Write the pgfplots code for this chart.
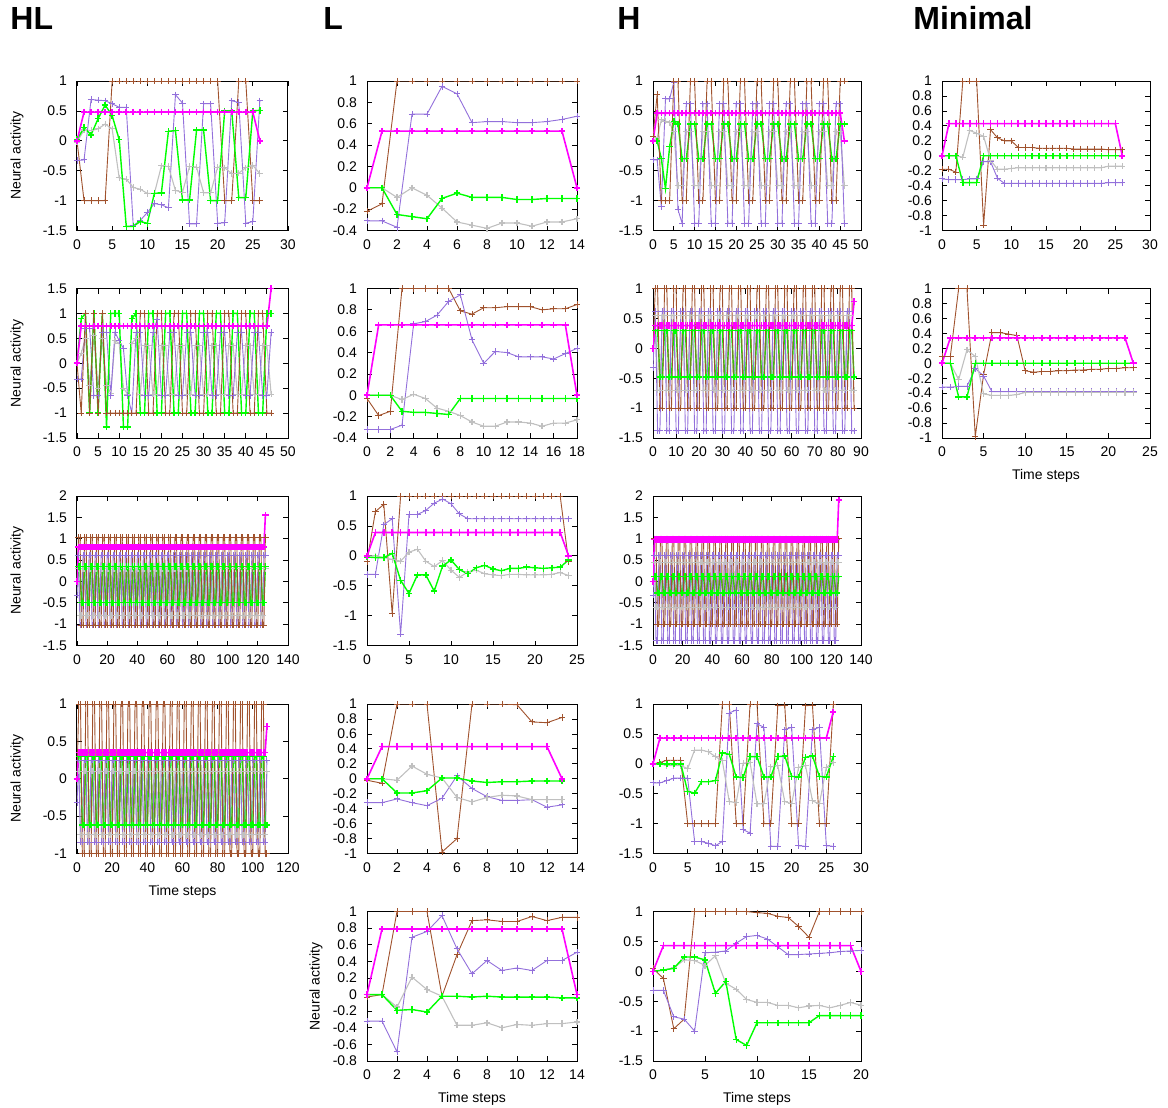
\documentclass[border=0pt]{standalone}
\usepackage{fontspec}
\setmainfont{Liberation Sans}
\usepackage{pgfplots}
\usepackage{pgfplotstable}
\pgfplotsset{compat=1.18}
\definecolor{cbr}{RGB}{160,82,45}
\definecolor{cpu}{RGB}{147,112,219}
\definecolor{cgr}{RGB}{0,255,0}
\definecolor{cgy}{RGB}{192,192,192}
\definecolor{cmg}{RGB}{255,0,255}
\pgfplotsset{
  panel/.style={scale only axis, height=74.75pt, anchor=north west,
    tick align=inside, major tick length=2.5pt,
    every tick/.style={black, line width=0.4pt},
    axis line style={black, line width=0.5pt},
    tick label style={font=\fontsize{7}{8}\selectfont},
    /pgf/number format/assume math mode=true,
    xticklabel style={yshift=-1pt},
    yticklabel style={xshift=-1.5pt},
    xlabel style={font=\fontsize{7}{8}\selectfont, at={(axis description cs:0.5,0)}, anchor=center, yshift=-19pt},
    ylabel style={font=\fontsize{7}{8}\selectfont, at={(axis description cs:-0.284,0.5)}, anchor=center},
  },
  sbr/.style={color=cbr, line width=0.45pt, mark=+, mark size=1.6pt},
  spu/.style={color=cpu, line width=0.45pt, mark=+, mark size=1.6pt},
  sgy/.style={color=cgy, line width=0.55pt, mark=+, mark size=1.6pt},
  sgr/.style={color=cgr, line width=0.7pt, mark=+, mark size=1.6pt},
  smg/.style={color=cmg, line width=0.8pt, mark=+, mark size=1.6pt},
  ya/.style={ymin=-1.5, ymax=1, ytick={-1.5,-1,-0.5,0,0.5,1}},
  yb/.style={ymin=-0.4, ymax=1, ytick={-0.4,-0.2,0,0.2,0.4,0.6,0.8,1}},
  yc/.style={ymin=-1, ymax=1, ytick={-1,-0.8,-0.6,-0.4,-0.2,0,0.2,0.4,0.6,0.8,1}},
}
\newcommand\plotT[1]{%
  \addplot[sbr] table[x=t,y=br]{#1};
  \addplot[spu] table[x=t,y=pu]{#1};
  \addplot[sgy] table[x=t,y=gy]{#1};
  \addplot[sgr] table[x=t,y=gr]{#1};
  \addplot[smg] table[x=t,y=mg]{#1};}
\newcommand\plotI[1]{%
  \addplot[sgy] table[x expr=\coordindex,y=gy]{#1};
  \addplot[spu] table[x expr=\coordindex,y=pu]{#1};
  \addplot[sgr] table[x expr=\coordindex,y=gr]{#1};
  \addplot[sbr] table[x expr=\coordindex,y=br]{#1};
  \addplot[smg] table[x expr=\coordindex,y=mg]{#1};}

% ---------------- HL ----------------
\pgfplotstableread{
t br pu gr gy mg
0 0 -0.33 0.02 -0.02 0
1 -1 -0.32 0.22 0.18 0.48
2 -1 0.69 0.1 0.17 0.48
3 -1 0.68 0.37 0.2 0.48
4 -1 0.67 0.6 0.28 0.48
5 1 0.62 0.42 0.2 0.48
6 1 0.56 0.02 -0.62 0.48
7 1 0.56 -1.43 -0.64 0.48
8 1 -1.42 -1.43 -0.78 0.48
9 1 -1.33 -1.35 -0.81 0.48
10 1 -1.2 -1.38 -0.88 0.48
11 1 -1.05 -0.88 -0.88 0.48
12 1 -1.07 -0.87 -0.42 0.48
13 1 -1.12 0.16 -0.43 0.48
14 1 0.77 0.17 -0.83 0.48
15 1 0.63 -0.99 -0.86 0.48
16 1 -1.39 -0.99 -0.43 0.48
17 1 -1.39 0.18 -0.44 0.48
18 1 0.62 0.18 -0.87 0.48
19 1 0.62 -1 -0.87 0.48
20 1 -1.38 -1 -0.44 0.48
21 -1 -1.37 0.5 -0.45 0.48
22 -1 0.67 0.5 -0.55 0.48
23 1 0.64 -0.95 -0.54 0.48
24 1 -1.38 -0.95 -0.45 0.48
25 -1 -1.35 0.5 -0.41 0.48
26 -1 0.67 0.51 -0.55 0
}\HLa

\pgfplotstableread[row sep=\\]{
br pu gr gy mg\\
0 -0.32 0 0 0\\
-1 -0.32 0.9 0.2 0.75\\
1 0.7 1 0.5 0.75\\
-1 0.7 -1 -0.45 0.75\\
1 -0.65 1 0.55 0.75\\
-1 -0.65 -1 -0.5 0.75\\
1 0.62 1 0.5 0.75\\
-1 0.62 -1.28 -0.45 0.75\\
-1 -0.65 1 -0.6 0.75\\
-1 0.62 1 0.45 0.75\\
-1 0.45 1 0.4 0.75\\
-1 0.3 -1.28 -0.5 0.75\\
-1 -0.65 -1.28 -0.62 0.75\\
-1 -1 0.9 0.4 0.75\\
-1 0.62 1 0.5 0.75\\
1 0.62 -1 -0.62 0.75\\ 1 -0.65 -1 0.35 0.75\\ -1 -0.65 1 0.35 0.75\\ -1 0.62 1 -0.62 0.75\\
1 0.88 -1 -0.62 0.75\\ 1 -0.65 -1 0.35 0.75\\ -1 -0.65 1 0.35 0.75\\ -1 0.62 1 -0.62 0.75\\
1 0.62 -1 -0.62 0.75\\ 1 -0.65 -1 0.35 0.75\\ -1 -0.65 1 0.35 0.75\\ -1 0.62 1 -0.62 0.75\\
1 0.62 -1 -0.62 0.75\\ 1 -0.65 -1 0.35 0.75\\ -1 -0.65 1 0.35 0.75\\ -1 0.62 1 -0.62 0.75\\
1 0.62 -1 -0.62 0.75\\ 1 -0.65 -1 0.35 0.75\\ -1 -0.65 1 0.35 0.75\\ -1 0.62 1 -0.62 0.75\\
1 0.62 -1 -0.62 0.75\\ 1 -0.65 -1 0.35 0.75\\ -1 -0.65 1 0.35 0.75\\ -1 0.62 1 -0.62 0.75\\
1 0.62 -1 -0.62 0.75\\ 1 -0.65 -1 0.35 0.75\\ -1 -0.65 1 0.35 0.75\\ -1 0.62 1 -0.62 0.75\\
1 0.62 -1 -0.62 0.75\\ 1 -0.65 -1 0.35 0.75\\ -1 -0.65 1 0.35 0.75\\
-1 0.62 1 -0.62 1.5\\
}\HLb

\pgfplotstableread[row sep=\\]{
br pu gr gy mg\\
0 -0.32 0 0 0\\
1.03 0.62 0.35 0.3 0.8\\ 1.03 -1.02 0.35 -0.8 0.8\\ -1.02 -1.02 -0.5 -0.8 0.8\\ -1.02 0.62 -0.5 0.3 0.8\\
1.03 0.62 0.35 0.3 0.8\\ 1.03 -1.02 0.35 -0.8 0.8\\ -1.02 -1.02 -0.5 -0.8 0.8\\ -1.02 0.62 -0.5 0.3 0.8\\
1.03 0.62 0.35 0.3 0.8\\ 1.03 -1.02 0.35 -0.8 0.8\\ -1.02 -1.02 -0.5 -0.8 0.8\\ -1.02 0.62 -0.5 0.3 0.8\\
1.03 0.62 0.35 0.3 0.8\\ 1.03 -1.02 0.35 -0.8 0.8\\ -1.02 -1.02 -0.5 -0.8 0.8\\ -1.02 0.62 -0.5 0.3 0.8\\
1.03 0.62 0.35 0.3 0.8\\ 1.03 -1.02 0.35 -0.8 0.8\\ -1.02 -1.02 -0.5 -0.8 0.8\\ -1.02 0.62 -0.5 0.3 0.8\\
1.03 0.62 0.35 0.3 0.8\\ 1.03 -1.02 0.35 -0.8 0.8\\ -1.02 -1.02 -0.5 -0.8 0.8\\ -1.02 0.62 -0.5 0.3 0.8\\
1.03 0.62 0.35 0.3 0.8\\ 1.03 -1.02 0.35 -0.8 0.8\\ -1.02 -1.02 -0.5 -0.8 0.8\\ -1.02 0.62 -0.5 0.3 0.8\\
1.03 0.62 0.35 0.3 0.8\\ 1.03 -1.02 0.35 -0.8 0.8\\ -1.02 -1.02 -0.5 -0.8 0.8\\ -1.02 0.62 -0.5 0.3 0.8\\
1.03 0.62 0.35 0.3 0.8\\ 1.03 -1.02 0.35 -0.8 0.8\\ -1.02 -1.02 -0.5 -0.8 0.8\\ -1.02 0.62 -0.5 0.3 0.8\\
1.03 0.62 0.35 0.3 0.8\\ 1.03 -1.02 0.35 -0.8 0.8\\ -1.02 -1.02 -0.5 -0.8 0.8\\ -1.02 0.62 -0.5 0.3 0.8\\
1.03 0.62 0.35 0.3 0.8\\ 1.03 -1.02 0.35 -0.8 0.8\\ -1.02 -1.02 -0.5 -0.8 0.8\\ -1.02 0.62 -0.5 0.3 0.8\\
1.03 0.62 0.35 0.3 0.8\\ 1.03 -1.02 0.35 -0.8 0.8\\ -1.02 -1.02 -0.5 -0.8 0.8\\ -1.02 0.62 -0.5 0.3 0.8\\
1.03 0.62 0.35 0.3 0.8\\ 1.03 -1.02 0.35 -0.8 0.8\\ -1.02 -1.02 -0.5 -0.8 0.8\\ -1.02 0.62 -0.5 0.3 0.8\\
1.03 0.62 0.35 0.3 0.8\\ 1.03 -1.02 0.35 -0.8 0.8\\ -1.02 -1.02 -0.5 -0.8 0.8\\ -1.02 0.62 -0.5 0.3 0.8\\
1.03 0.62 0.35 0.3 0.8\\ 1.03 -1.02 0.35 -0.8 0.8\\ -1.02 -1.02 -0.5 -0.8 0.8\\ -1.02 0.62 -0.5 0.3 0.8\\
1.03 0.62 0.35 0.3 0.8\\ 1.03 -1.02 0.35 -0.8 0.8\\ -1.02 -1.02 -0.5 -0.8 0.8\\ -1.02 0.62 -0.5 0.3 0.8\\
1.03 0.62 0.35 0.3 0.8\\ 1.03 -1.02 0.35 -0.8 0.8\\ -1.02 -1.02 -0.5 -0.8 0.8\\ -1.02 0.62 -0.5 0.3 0.8\\
1.03 0.62 0.35 0.3 0.8\\ 1.03 -1.02 0.35 -0.8 0.8\\ -1.02 -1.02 -0.5 -0.8 0.8\\ -1.02 0.62 -0.5 0.3 0.8\\
1.03 0.62 0.35 0.3 0.8\\ 1.03 -1.02 0.35 -0.8 0.8\\ -1.02 -1.02 -0.5 -0.8 0.8\\ -1.02 0.62 -0.5 0.3 0.8\\
1.03 0.62 0.35 0.3 0.8\\ 1.03 -1.02 0.35 -0.8 0.8\\ -1.02 -1.02 -0.5 -0.8 0.8\\ -1.02 0.62 -0.5 0.3 0.8\\
1.03 0.62 0.35 0.3 0.8\\ 1.03 -1.02 0.35 -0.8 0.8\\ -1.02 -1.02 -0.5 -0.8 0.8\\ -1.02 0.62 -0.5 0.3 0.8\\
1.03 0.62 0.35 0.3 0.8\\ 1.03 -1.02 0.35 -0.8 0.8\\ -1.02 -1.02 -0.5 -0.8 0.8\\ -1.02 0.62 -0.5 0.3 0.8\\
1.03 0.62 0.35 0.3 0.8\\ 1.03 -1.02 0.35 -0.8 0.8\\ -1.02 -1.02 -0.5 -0.8 0.8\\ -1.02 0.62 -0.5 0.3 0.8\\
1.03 0.62 0.35 0.3 0.8\\ 1.03 -1.02 0.35 -0.8 0.8\\ -1.02 -1.02 -0.5 -0.8 0.8\\ -1.02 0.62 -0.5 0.3 0.8\\
1.03 0.62 0.35 0.3 0.8\\ 1.03 -1.02 0.35 -0.8 0.8\\ -1.02 -1.02 -0.5 -0.8 0.8\\ -1.02 0.62 -0.5 0.3 0.8\\
1.03 0.62 0.35 0.3 0.8\\ 1.03 -1.02 0.35 -0.8 0.8\\ -1.02 -1.02 -0.5 -0.8 0.8\\ -1.02 0.62 -0.5 0.3 0.8\\
1.03 0.62 0.35 0.3 0.8\\ 1.03 -1.02 0.35 -0.8 0.8\\ -1.02 -1.02 -0.5 -0.8 0.8\\ -1.02 0.62 -0.5 0.3 0.8\\
1.03 0.62 0.35 0.3 0.8\\ 1.03 -1.02 0.35 -0.8 0.8\\ -1.02 -1.02 -0.5 -0.8 0.8\\ -1.02 0.62 -0.5 0.3 0.8\\
1.03 0.62 0.35 0.3 0.8\\ 1.03 -1.02 0.35 -0.8 0.8\\ -1.02 -1.02 -0.5 -0.8 0.8\\ -1.02 0.62 -0.5 0.3 0.8\\
1.03 0.62 0.35 0.3 0.8\\ 1.03 -1.02 0.35 -0.8 0.8\\ -1.02 -1.02 -0.5 -0.8 0.8\\ -1.02 0.62 -0.5 0.3 0.8\\
1.03 0.62 0.35 0.3 0.8\\ 1.03 -1.02 0.35 -0.8 0.8\\ -1.02 -1.02 -0.5 -0.8 0.8\\ -1.02 0.62 -0.5 0.3 0.8\\
1.03 0.62 0.35 0.3 1.55\\
}\HLc

\pgfplotstableread[row sep=\\]{
br pu gr gy mg\\
0 -0.32 0 0 0\\
1 0.25 0.3 0.1 0.35\\ 1 -0.85 0.3 -0.75 0.35\\ -1 -0.85 -0.62 -0.75 0.35\\ -1 0.25 -0.62 0.1 0.35\\
1 0.25 0.3 0.1 0.35\\ 1 -0.85 0.3 -0.75 0.35\\ -1 -0.85 -0.62 -0.75 0.35\\ -1 0.25 -0.62 0.1 0.35\\
1 0.25 0.3 0.1 0.35\\ 1 -0.85 0.3 -0.75 0.35\\ -1 -0.85 -0.62 -0.75 0.35\\ -1 0.25 -0.62 0.1 0.35\\
1 0.25 0.3 0.1 0.35\\ 1 -0.85 0.3 -0.75 0.35\\ -1 -0.85 -0.62 -0.75 0.35\\ -1 0.25 -0.62 0.1 0.35\\
1 0.25 0.3 0.1 0.35\\ 1 -0.85 0.3 -0.75 0.35\\ -1 -0.85 -0.62 -0.75 0.35\\ -1 0.25 -0.62 0.1 0.35\\
1 0.25 0.3 0.1 0.35\\ 1 -0.85 0.3 -0.75 0.35\\ -1 -0.85 -0.62 -0.75 0.35\\ -1 0.25 -0.62 0.1 0.35\\
1 0.25 0.3 0.1 0.35\\ 1 -0.85 0.3 -0.75 0.35\\ -1 -0.85 -0.62 -0.75 0.35\\ -1 0.25 -0.62 0.1 0.35\\
1 0.25 0.3 0.1 0.35\\ 1 -0.85 0.3 -0.75 0.35\\ -1 -0.85 -0.62 -0.75 0.35\\ -1 0.25 -0.62 0.1 0.35\\
1 0.25 0.3 0.1 0.35\\ 1 -0.85 0.3 -0.75 0.35\\ -1 -0.85 -0.62 -0.75 0.35\\ -1 0.25 -0.62 0.1 0.35\\
1 0.25 0.3 0.1 0.35\\ 1 -0.85 0.3 -0.75 0.35\\ -1 -0.85 -0.62 -0.75 0.35\\ -1 0.25 -0.62 0.1 0.35\\
1 0.25 0.3 0.1 0.35\\ 1 -0.85 0.3 -0.75 0.35\\ -1 -0.85 -0.62 -0.75 0.35\\ -1 0.25 -0.62 0.1 0.35\\
1 0.25 0.3 0.1 0.35\\ 1 -0.85 0.3 -0.75 0.35\\ -1 -0.85 -0.62 -0.75 0.35\\ -1 0.25 -0.62 0.1 0.35\\
1 0.25 0.3 0.1 0.35\\ 1 -0.85 0.3 -0.75 0.35\\ -1 -0.85 -0.62 -0.75 0.35\\ -1 0.25 -0.62 0.1 0.35\\
1 0.25 0.3 0.1 0.35\\ 1 -0.85 0.3 -0.75 0.35\\ -1 -0.85 -0.62 -0.75 0.35\\ -1 0.25 -0.62 0.1 0.35\\
1 0.25 0.3 0.1 0.35\\ 1 -0.85 0.3 -0.75 0.35\\ -1 -0.85 -0.62 -0.75 0.35\\ -1 0.25 -0.62 0.1 0.35\\
1 0.25 0.3 0.1 0.35\\ 1 -0.85 0.3 -0.75 0.35\\ -1 -0.85 -0.62 -0.75 0.35\\ -1 0.25 -0.62 0.1 0.35\\
1 0.25 0.3 0.1 0.35\\ 1 -0.85 0.3 -0.75 0.35\\ -1 -0.85 -0.62 -0.75 0.35\\ -1 0.25 -0.62 0.1 0.35\\
1 0.25 0.3 0.1 0.35\\ 1 -0.85 0.3 -0.75 0.35\\ -1 -0.85 -0.62 -0.75 0.35\\ -1 0.25 -0.62 0.1 0.35\\
1 0.25 0.3 0.1 0.35\\ 1 -0.85 0.3 -0.75 0.35\\ -1 -0.85 -0.62 -0.75 0.35\\ -1 0.25 -0.62 0.1 0.35\\
1 0.25 0.3 0.1 0.35\\ 1 -0.85 0.3 -0.75 0.35\\ -1 -0.85 -0.62 -0.75 0.35\\ -1 0.25 -0.62 0.1 0.35\\
1 0.25 0.3 0.1 0.35\\ 1 -0.85 0.3 -0.75 0.35\\ -1 -0.85 -0.62 -0.75 0.35\\ -1 0.25 -0.62 0.1 0.35\\
1 0.25 0.3 0.1 0.35\\ 1 -0.85 0.3 -0.75 0.35\\ -1 -0.85 -0.62 -0.75 0.35\\ -1 0.25 -0.62 0.1 0.35\\
1 0.25 0.3 0.1 0.35\\ 1 -0.85 0.3 -0.75 0.35\\ -1 -0.85 -0.62 -0.75 0.35\\ -1 0.25 -0.62 0.1 0.35\\
1 0.25 0.3 0.1 0.35\\ 1 -0.85 0.3 -0.75 0.35\\ -1 -0.85 -0.62 -0.75 0.35\\ -1 0.25 -0.62 0.1 0.35\\
1 0.25 0.3 0.1 0.35\\ 1 -0.85 0.3 -0.75 0.35\\ -1 -0.85 -0.62 -0.75 0.35\\ -1 0.25 -0.62 0.1 0.35\\
1 0.25 0.3 0.1 0.35\\ 1 -0.85 0.3 -0.75 0.35\\ -1 -0.85 -0.62 -0.75 0.35\\ -1 0.25 -0.62 0.1 0.35\\
1 0.25 0.3 0.1 0.35\\ 1 -0.85 0.3 -0.75 0.35\\ -1 -0.85 -0.62 -0.75 0.35\\
-1 0.25 -0.62 0.1 0.7\\
}\HLd

% ---------------- L ----------------
\pgfplotstableread{
t br pu gr gy mg
0 -0.22 -0.31 0 0 0
1 -0.15 -0.31 0 0 0.53
2 1 -0.37 -0.25 -0.09 0.53
3 1 0.69 -0.27 0 0.53
4 1 0.69 -0.29 -0.07 0.53
5 1 0.95 -0.1 -0.19 0.53
6 1 0.88 -0.05 -0.32 0.53
7 1 0.61 -0.09 -0.35 0.53
8 1 0.62 -0.09 -0.38 0.53
9 1 0.62 -0.09 -0.33 0.53
10 1 0.61 -0.11 -0.33 0.53
11 1 0.61 -0.11 -0.36 0.53
12 1 0.62 -0.1 -0.32 0.53
13 1 0.64 -0.1 -0.32 0.53
14 1 0.67 -0.1 -0.29 0
}\La

\pgfplotstableread{
t br pu gr gy mg
0 -0.03 -0.32 0 0 0
1 -0.19 -0.32 0 0 0.66
2 -0.15 -0.32 0 0 0.66
3 1 -0.28 -0.15 -0.04 0.66
4 1 0.67 -0.16 0.01 0.66
5 1 0.69 -0.16 -0.03 0.66
6 1 0.75 -0.17 -0.12 0.66
7 1 0.88 -0.18 -0.15 0.66
8 0.79 0.94 -0.03 -0.19 0.66
9 0.76 0.52 -0.03 -0.25 0.66
10 0.82 0.3 -0.03 -0.29 0.66
11 0.82 0.41 -0.03 -0.29 0.66
12 0.83 0.4 -0.03 -0.25 0.66
13 0.83 0.36 -0.03 -0.25 0.66
14 0.83 0.36 -0.03 -0.26 0.66
15 0.8 0.36 -0.03 -0.29 0.66
16 0.81 0.34 -0.03 -0.26 0.66
17 0.81 0.39 -0.03 -0.26 0.66
18 0.85 0.44 -0.03 -0.23 0
}\Lb

\pgfplotstableread{
t br pu gr gy mg
0 -0.1 -0.31 -0.02 0 0
1 0.74 -0.31 -0.03 0 0.39
2 0.86 0.52 -0.03 -0.03 0.39
3 -0.97 0.62 0.04 -0.06 0.39
4 1 -1.31 -0.41 -0.09 0.39
5 1 0.69 -0.63 0.06 0.39
6 1 0.69 -0.32 0.11 0.39
7 1 0.76 -0.32 -0.09 0.39
8 1 0.88 -0.59 -0.18 0.39
9 1 0.95 -0.17 -0.08 0.39
10 1 0.87 -0.07 -0.24 0.39
11 1 0.7 -0.23 -0.36 0.39
12 1 0.62 -0.3 -0.27 0.39
13 1 0.62 -0.2 -0.24 0.39
14 1 0.62 -0.16 -0.3 0.39
15 1 0.62 -0.22 -0.32 0.39
16 1 0.62 -0.25 -0.33 0.39
17 1 0.62 -0.21 -0.31 0.39
18 1 0.62 -0.21 -0.31 0.39
19 1 0.62 -0.19 -0.32 0.39
20 1 0.62 -0.2 -0.32 0.39
21 1 0.62 -0.21 -0.32 0.39
22 1 0.62 -0.2 -0.31 0.39
23 1 0.62 -0.19 -0.28 0.39
24 -0.1 0.62 -0.07 -0.33 0
}\Lc

\pgfplotstableread{
t br pu gr gy mg
0 -0.02 -0.32 0 0 0
1 -0.06 -0.32 0 0 0.43
2 1 -0.27 -0.19 -0.02 0.43
3 1 -0.32 -0.19 0.17 0.43
4 1 -0.36 -0.16 0.06 0.43
5 -0.98 -0.26 0.01 0.01 0.43
6 -0.8 0.04 0.01 -0.25 0.43
7 1 -0.13 -0.03 -0.31 0.43
8 1 -0.24 -0.05 -0.25 0.43
9 1 -0.29 -0.04 -0.22 0.43
10 0.99 -0.29 -0.04 -0.23 0.43
11 0.76 -0.28 -0.03 -0.28 0.43
12 0.75 -0.38 -0.03 -0.28 0.43
13 0.82 -0.35 -0.03 -0.28 0
}\Ld

\pgfplotstableread{
t br pu gr gy mg
0 -0.03 -0.32 0 0 0
1 0 -0.32 0 0 0.79
2 1 -0.69 -0.19 -0.15 0.79
3 1 0.69 -0.18 0.21 0.79
4 1 0.76 -0.21 0.06 0.79
5 -0.02 0.95 -0.02 -0.02 0.79
6 0.48 0.55 -0.02 -0.37 0.79
7 0.89 0.25 -0.03 -0.37 0.79
8 0.9 0.41 -0.02 -0.34 0.79
9 0.88 0.29 -0.03 -0.4 0.79
10 0.88 0.32 -0.03 -0.36 0.79
11 0.94 0.29 -0.03 -0.37 0.79
12 0.89 0.41 -0.03 -0.35 0.79
13 0.93 0.41 -0.04 -0.35 0.79
14 0.93 0.51 -0.04 -0.33 0
}\Le

% ---------------- H ----------------
\pgfplotstableread[row sep=\\]{
br pu gr gy mg\\
0.07 -0.32 0 0 0\\
0.78 -0.32 0 0.05 0.46\\
-1 -1.1 -0.3 0.35 0.46\\
-1 0.7 -0.8 0.33 0.46\\
-1 0.7 -0.1 0.3 0.46\\
1 0.98 0.32 0.15 0.46\\
1 -1.15 0.28 -0.75 0.46\\
-1 -1.38 -0.3 -0.75 0.46\\
-1 0.62 -0.3 0.15 0.46\\
1 0.62 0.28 0.15 0.46\\ 1 -1.38 0.28 -0.75 0.46\\ -1 -1.38 -0.3 -0.75 0.46\\ -1 0.62 -0.3 0.15 0.46\\
1 0.62 0.28 0.15 0.46\\ 1 -1.38 0.28 -0.75 0.46\\ -1 -1.38 -0.3 -0.75 0.46\\ -1 0.62 -0.3 0.15 0.46\\
1 0.62 0.28 0.15 0.46\\ 1 -1.38 0.28 -0.75 0.46\\ -1 -1.38 -0.3 -0.75 0.46\\ -1 0.62 -0.3 0.15 0.46\\
1 0.62 0.28 0.15 0.46\\ 1 -1.38 0.28 -0.75 0.46\\ -1 -1.38 -0.3 -0.75 0.46\\ -1 0.62 -0.3 0.15 0.46\\
1 0.62 0.28 0.15 0.46\\ 1 -1.38 0.28 -0.75 0.46\\ -1 -1.38 -0.3 -0.75 0.46\\ -1 0.62 -0.3 0.15 0.46\\
1 0.62 0.28 0.15 0.46\\ 1 -1.38 0.28 -0.75 0.46\\ -1 -1.38 -0.3 -0.75 0.46\\ -1 0.62 -0.3 0.15 0.46\\
1 0.62 0.28 0.15 0.46\\ 1 -1.38 0.28 -0.75 0.46\\ -1 -1.38 -0.3 -0.75 0.46\\ -1 0.62 -0.3 0.15 0.46\\
1 0.62 0.28 0.15 0.46\\ 1 -1.38 0.28 -0.75 0.46\\ -1 -1.38 -0.3 -0.75 0.46\\ -1 0.62 -0.3 0.15 0.46\\
1 0.62 0.28 0.15 0.46\\ 1 -1.38 0.28 -0.75 0.46\\ -1 -1.38 -0.3 -0.75 0.46\\ -1 0.62 -0.3 0.15 0.46\\
1 0.62 0.28 0.15 0.46\\
1 -1.38 0.28 -0.75 0\\
}\Ha

\pgfplotstableread[row sep=\\]{
br pu gr gy mg\\
0 -0.32 0 0 0\\
1 0.62 0.3 0.55 0.38\\ 1 -1.38 0.3 -0.7 0.38\\ -1 -1.38 -0.48 -0.7 0.38\\ -1 0.62 -0.48 0.55 0.38\\
1 0.62 0.3 0.55 0.38\\ 1 -1.38 0.3 -0.7 0.38\\ -1 -1.38 -0.48 -0.7 0.38\\ -1 0.62 -0.48 0.55 0.38\\
1 0.62 0.3 0.55 0.38\\ 1 -1.38 0.3 -0.7 0.38\\ -1 -1.38 -0.48 -0.7 0.38\\ -1 0.62 -0.48 0.55 0.38\\
1 0.62 0.3 0.55 0.38\\ 1 -1.38 0.3 -0.7 0.38\\ -1 -1.38 -0.48 -0.7 0.38\\ -1 0.62 -0.48 0.55 0.38\\
1 0.62 0.3 0.55 0.38\\ 1 -1.38 0.3 -0.7 0.38\\ -1 -1.38 -0.48 -0.7 0.38\\ -1 0.62 -0.48 0.55 0.38\\
1 0.62 0.3 0.55 0.38\\ 1 -1.38 0.3 -0.7 0.38\\ -1 -1.38 -0.48 -0.7 0.38\\ -1 0.62 -0.48 0.55 0.38\\
1 0.62 0.3 0.55 0.38\\ 1 -1.38 0.3 -0.7 0.38\\ -1 -1.38 -0.48 -0.7 0.38\\ -1 0.62 -0.48 0.55 0.38\\
1 0.62 0.3 0.55 0.38\\ 1 -1.38 0.3 -0.7 0.38\\ -1 -1.38 -0.48 -0.7 0.38\\ -1 0.62 -0.48 0.55 0.38\\
1 0.62 0.3 0.55 0.38\\ 1 -1.38 0.3 -0.7 0.38\\ -1 -1.38 -0.48 -0.7 0.38\\ -1 0.62 -0.48 0.55 0.38\\
1 0.62 0.3 0.55 0.38\\ 1 -1.38 0.3 -0.7 0.38\\ -1 -1.38 -0.48 -0.7 0.38\\ -1 0.62 -0.48 0.55 0.38\\
1 0.62 0.3 0.55 0.38\\ 1 -1.38 0.3 -0.7 0.38\\ -1 -1.38 -0.48 -0.7 0.38\\ -1 0.62 -0.48 0.55 0.38\\
1 0.62 0.3 0.55 0.38\\ 1 -1.38 0.3 -0.7 0.38\\ -1 -1.38 -0.48 -0.7 0.38\\ -1 0.62 -0.48 0.55 0.38\\
1 0.62 0.3 0.55 0.38\\ 1 -1.38 0.3 -0.7 0.38\\ -1 -1.38 -0.48 -0.7 0.38\\ -1 0.62 -0.48 0.55 0.38\\
1 0.62 0.3 0.55 0.38\\ 1 -1.38 0.3 -0.7 0.38\\ -1 -1.38 -0.48 -0.7 0.38\\ -1 0.62 -0.48 0.55 0.38\\
1 0.62 0.3 0.55 0.38\\ 1 -1.38 0.3 -0.7 0.38\\ -1 -1.38 -0.48 -0.7 0.38\\ -1 0.62 -0.48 0.55 0.38\\
1 0.62 0.3 0.55 0.38\\ 1 -1.38 0.3 -0.7 0.38\\ -1 -1.38 -0.48 -0.7 0.38\\ -1 0.62 -0.48 0.55 0.38\\
1 0.62 0.3 0.55 0.38\\ 1 -1.38 0.3 -0.7 0.38\\ -1 -1.38 -0.48 -0.7 0.38\\ -1 0.62 -0.48 0.55 0.38\\
1 0.62 0.3 0.55 0.38\\ 1 -1.38 0.3 -0.7 0.38\\ -1 -1.38 -0.48 -0.7 0.38\\ -1 0.62 -0.48 0.55 0.38\\
1 0.62 0.3 0.55 0.38\\ 1 -1.38 0.3 -0.7 0.38\\ -1 -1.38 -0.48 -0.7 0.38\\ -1 0.62 -0.48 0.55 0.38\\
1 0.62 0.3 0.55 0.38\\ 1 -1.38 0.3 -0.7 0.38\\ -1 -1.38 -0.48 -0.7 0.38\\ -1 0.62 -0.48 0.55 0.38\\
1 0.62 0.3 0.55 0.38\\ 1 -1.38 0.3 -0.7 0.38\\ -1 -1.38 -0.48 -0.7 0.38\\ -1 0.62 -0.48 0.55 0.38\\
1 0.62 0.3 0.55 0.38\\ 1 -1.38 0.3 -0.7 0.38\\
-1 -1.38 -0.48 -0.7 0.78\\
}\Hb

\pgfplotstableread[row sep=\\]{
br pu gr gy mg\\
0 -0.32 0 0 0\\
1 0.62 0.12 0.45 0.98\\ 1 -1.38 0.12 -0.6 0.98\\ -1 -1.38 -0.27 -0.6 0.98\\ -1 0.62 -0.27 0.45 0.98\\
1 0.62 0.12 0.45 0.98\\ 1 -1.38 0.12 -0.6 0.98\\ -1 -1.38 -0.27 -0.6 0.98\\ -1 0.62 -0.27 0.45 0.98\\
1 0.62 0.12 0.45 0.98\\ 1 -1.38 0.12 -0.6 0.98\\ -1 -1.38 -0.27 -0.6 0.98\\ -1 0.62 -0.27 0.45 0.98\\
1 0.62 0.12 0.45 0.98\\ 1 -1.38 0.12 -0.6 0.98\\ -1 -1.38 -0.27 -0.6 0.98\\ -1 0.62 -0.27 0.45 0.98\\
1 0.62 0.12 0.45 0.98\\ 1 -1.38 0.12 -0.6 0.98\\ -1 -1.38 -0.27 -0.6 0.98\\ -1 0.62 -0.27 0.45 0.98\\
1 0.62 0.12 0.45 0.98\\ 1 -1.38 0.12 -0.6 0.98\\ -1 -1.38 -0.27 -0.6 0.98\\ -1 0.62 -0.27 0.45 0.98\\
1 0.62 0.12 0.45 0.98\\ 1 -1.38 0.12 -0.6 0.98\\ -1 -1.38 -0.27 -0.6 0.98\\ -1 0.62 -0.27 0.45 0.98\\
1 0.62 0.12 0.45 0.98\\ 1 -1.38 0.12 -0.6 0.98\\ -1 -1.38 -0.27 -0.6 0.98\\ -1 0.62 -0.27 0.45 0.98\\
1 0.62 0.12 0.45 0.98\\ 1 -1.38 0.12 -0.6 0.98\\ -1 -1.38 -0.27 -0.6 0.98\\ -1 0.62 -0.27 0.45 0.98\\
1 0.62 0.12 0.45 0.98\\ 1 -1.38 0.12 -0.6 0.98\\ -1 -1.38 -0.27 -0.6 0.98\\ -1 0.62 -0.27 0.45 0.98\\
1 0.62 0.12 0.45 0.98\\ 1 -1.38 0.12 -0.6 0.98\\ -1 -1.38 -0.27 -0.6 0.98\\ -1 0.62 -0.27 0.45 0.98\\
1 0.62 0.12 0.45 0.98\\ 1 -1.38 0.12 -0.6 0.98\\ -1 -1.38 -0.27 -0.6 0.98\\ -1 0.62 -0.27 0.45 0.98\\
1 0.62 0.12 0.45 0.98\\ 1 -1.38 0.12 -0.6 0.98\\ -1 -1.38 -0.27 -0.6 0.98\\ -1 0.62 -0.27 0.45 0.98\\
1 0.62 0.12 0.45 0.98\\ 1 -1.38 0.12 -0.6 0.98\\ -1 -1.38 -0.27 -0.6 0.98\\ -1 0.62 -0.27 0.45 0.98\\
1 0.62 0.12 0.45 0.98\\ 1 -1.38 0.12 -0.6 0.98\\ -1 -1.38 -0.27 -0.6 0.98\\ -1 0.62 -0.27 0.45 0.98\\
1 0.62 0.12 0.45 0.98\\ 1 -1.38 0.12 -0.6 0.98\\ -1 -1.38 -0.27 -0.6 0.98\\ -1 0.62 -0.27 0.45 0.98\\
1 0.62 0.12 0.45 0.98\\ 1 -1.38 0.12 -0.6 0.98\\ -1 -1.38 -0.27 -0.6 0.98\\ -1 0.62 -0.27 0.45 0.98\\
1 0.62 0.12 0.45 0.98\\ 1 -1.38 0.12 -0.6 0.98\\ -1 -1.38 -0.27 -0.6 0.98\\ -1 0.62 -0.27 0.45 0.98\\
1 0.62 0.12 0.45 0.98\\ 1 -1.38 0.12 -0.6 0.98\\ -1 -1.38 -0.27 -0.6 0.98\\ -1 0.62 -0.27 0.45 0.98\\
1 0.62 0.12 0.45 0.98\\ 1 -1.38 0.12 -0.6 0.98\\ -1 -1.38 -0.27 -0.6 0.98\\ -1 0.62 -0.27 0.45 0.98\\
1 0.62 0.12 0.45 0.98\\ 1 -1.38 0.12 -0.6 0.98\\ -1 -1.38 -0.27 -0.6 0.98\\ -1 0.62 -0.27 0.45 0.98\\
1 0.62 0.12 0.45 0.98\\ 1 -1.38 0.12 -0.6 0.98\\ -1 -1.38 -0.27 -0.6 0.98\\ -1 0.62 -0.27 0.45 0.98\\
1 0.62 0.12 0.45 0.98\\ 1 -1.38 0.12 -0.6 0.98\\ -1 -1.38 -0.27 -0.6 0.98\\ -1 0.62 -0.27 0.45 0.98\\
1 0.62 0.12 0.45 0.98\\ 1 -1.38 0.12 -0.6 0.98\\ -1 -1.38 -0.27 -0.6 0.98\\ -1 0.62 -0.27 0.45 0.98\\
1 0.62 0.12 0.45 0.98\\ 1 -1.38 0.12 -0.6 0.98\\ -1 -1.38 -0.27 -0.6 0.98\\ -1 0.62 -0.27 0.45 0.98\\
1 0.62 0.12 0.45 0.98\\ 1 -1.38 0.12 -0.6 0.98\\ -1 -1.38 -0.27 -0.6 0.98\\ -1 0.62 -0.27 0.45 0.98\\
1 0.62 0.12 0.45 0.98\\ 1 -1.38 0.12 -0.6 0.98\\ -1 -1.38 -0.27 -0.6 0.98\\ -1 0.62 -0.27 0.45 0.98\\
1 0.62 0.12 0.45 0.98\\ 1 -1.38 0.12 -0.6 0.98\\ -1 -1.38 -0.27 -0.6 0.98\\ -1 0.62 -0.27 0.45 0.98\\
1 0.62 0.12 0.45 0.98\\ 1 -1.38 0.12 -0.6 0.98\\ -1 -1.38 -0.27 -0.6 0.98\\ -1 0.62 -0.27 0.45 0.98\\
1 0.62 0.12 0.45 0.98\\ 1 -1.38 0.12 -0.6 0.98\\ -1 -1.38 -0.27 -0.6 0.98\\ -1 0.62 -0.27 0.45 0.98\\
1 0.62 0.12 0.45 0.98\\ 1 -1.38 0.12 -0.6 0.98\\ -1 -1.38 -0.27 -0.6 0.98\\ -1 0.62 -0.27 0.45 0.98\\
1 0.62 0.12 0.45 1.9\\
}\Hc

\pgfplotstableread{
t br pu gr gy mg
0 0 -0.32 0 0 0
1 0.02 -0.32 0 0 0.43
2 0.06 -0.28 0 -0.03 0.43
3 0.06 -0.24 0 -0.03 0.43
4 0.06 -0.24 0 -0.03 0.43
5 -1 -0.24 -0.46 -0.08 0.43
6 -1 -1.3 -0.49 0.23 0.43
7 -1 -1.3 -0.3 0.23 0.43
8 -1 -1.33 -0.3 0.2 0.43
9 -1 -1.37 -0.28 0.12 0.43
10 1 -1.3 0.18 0.05 0.43
11 1 0.85 0.16 -0.63 0.43
12 -1 0.9 -0.22 -0.65 0.43
13 -1 -1.1 -0.23 0.01 0.43
14 1 -1.16 0.12 0.02 0.43
15 1 0.67 0.12 -0.67 0.43
16 -1 0.61 -0.22 -0.67 0.43
17 -1 -1.38 -0.22 -0.05 0.43
18 0.97 -1.38 0.12 -0.03 0.43
19 0.98 0.57 0.13 -0.63 0.43
20 -1 0.61 -0.21 -0.67 0.43
21 -1 -1.37 -0.22 -0.06 0.43
22 0.97 -1.38 0.11 -0.03 0.43
23 0.98 0.57 0.13 -0.62 0.43
24 -1 0.61 -0.21 -0.67 0.43
25 -1 -1.37 -0.22 -0.06 0.43
26 0.99 -1.38 0.12 0.02 0.87
}\Hd

\pgfplotstableread{
t br pu gr gy mg
0 0.05 -0.32 0 0 0
1 -0.12 -0.32 0.02 0.02 0.43
2 -0.96 -0.76 0.05 0.06 0.43
3 -0.8 -0.8 0.24 0.19 0.43
4 1 -1 0.24 0.18 0.43
5 1 0.31 0.19 0.1 0.43
6 1 0.32 -0.37 0.26 0.43
7 1 0.34 -0.17 -0.2 0.43
8 1 0.47 -1.14 -0.3 0.43
9 1 0.58 -1.24 -0.47 0.43
10 0.98 0.6 -0.86 -0.52 0.43
11 0.97 0.54 -0.86 -0.52 0.43
12 0.92 0.41 -0.86 -0.57 0.43
13 0.9 0.28 -0.86 -0.57 0.43
14 0.75 0.28 -0.86 -0.61 0.43
15 0.57 0.29 -0.86 -0.58 0.43
16 1 0.3 -0.74 -0.57 0.43
17 1 0.31 -0.74 -0.61 0.43
18 1 0.33 -0.74 -0.57 0.43
19 1 0.34 -0.74 -0.52 0.43
20 1 0.35 -0.74 -0.57 0
}\He

% ---------------- Minimal ----------------
\pgfplotstableread{
t br pu gr gy mg
0 -0.18 -0.31 0 0 0
1 -0.18 -0.32 0 0 0.43
2 -0.22 -0.32 0 0 0.43
3 1 -0.32 -0.36 -0.02 0.43
4 1 -0.31 -0.36 0.34 0.43
5 1 -0.31 -0.36 0.3 0.43
6 -0.93 -0.08 0 0.26 0.43
7 0.35 -0.08 0 -0.06 0.43
8 0.24 -0.3 0 -0.18 0.43
9 0.2 -0.37 0 -0.18 0.43
10 0.2 -0.37 0 -0.17 0.43
11 0.11 -0.37 0 -0.16 0.43
12 0.11 -0.37 0 -0.16 0.43
13 0.11 -0.37 0 -0.16 0.43
14 0.1 -0.37 0 -0.16 0.43
15 0.1 -0.37 0 -0.16 0.43
16 0.1 -0.37 0 -0.16 0.43
17 0.1 -0.37 0 -0.16 0.43
18 0.1 -0.37 0 -0.16 0.43
19 0.09 -0.37 0 -0.16 0.43
20 0.09 -0.37 0 -0.16 0.43
21 0.09 -0.37 0 -0.16 0.43
22 0.09 -0.37 0 -0.16 0.43
23 0.09 -0.37 0 -0.16 0.43
24 0.08 -0.36 0 -0.14 0.43
25 0.08 -0.36 0 -0.14 0.43
26 0.08 -0.36 0 -0.14 0
}\Ma

\pgfplotstableread{
t br pu gr gy mg
0 0.09 -0.32 0 0 0
1 0.09 -0.32 0 0 0.34
2 1 -0.31 -0.45 -0.22 0.34
3 1 -0.31 -0.45 0.18 0.34
4 -0.98 -0.07 0 0.09 0.34
5 -0.15 -0.17 0 -0.41 0.34
6 0.41 -0.38 0 -0.43 0.34
7 0.41 -0.38 0 -0.43 0.34
8 0.39 -0.38 0 -0.43 0.34
9 0.37 -0.38 0 -0.42 0.34
10 -0.1 -0.38 0 -0.39 0.34
11 -0.12 -0.38 0 -0.39 0.34
12 -0.11 -0.38 0 -0.39 0.34
13 -0.11 -0.38 0 -0.39 0.34
14 -0.1 -0.38 0 -0.39 0.34
15 -0.1 -0.38 0 -0.39 0.34
16 -0.09 -0.38 0 -0.39 0.34
17 -0.09 -0.38 0 -0.39 0.34
18 -0.08 -0.38 0 -0.39 0.34
19 -0.08 -0.38 0 -0.39 0.34
20 -0.07 -0.38 0 -0.39 0.34
21 -0.07 -0.38 0 -0.39 0.34
22 -0.06 -0.38 0 -0.39 0.34
23 -0.06 -0.38 0 -0.39 0
}\Mb

\begin{document}
\begin{tikzpicture}
\path[use as bounding box] (0,0) rectangle (584pt,-554pt);
\node[anchor=base west, inner sep=0pt, font=\fontsize{16}{16}\selectfont\bfseries] at (5pt,-15pt) {HL};
\node[anchor=base west, inner sep=0pt, font=\fontsize{16}{16}\selectfont\bfseries] at (161.5pt,-15pt) {L};
\node[anchor=base west, inner sep=0pt, font=\fontsize{16}{16}\selectfont\bfseries] at (308.5pt,-15pt) {H};
\node[anchor=base west, inner sep=0pt, font=\fontsize{16}{16}\selectfont\bfseries] at (456.5pt,-15pt) {Minimal};

% HL column
\begin{axis}[panel, at={(38.5pt,-40.5pt)}, width=105.5pt, xmin=0, xmax=30, xtick={0,5,...,30}, ya, ylabel={Neural activity}]
\plotT{\HLa}
\end{axis}
\begin{axis}[panel, at={(38.5pt,-144.25pt)}, width=105.5pt, xmin=0, xmax=50, xtick={0,5,...,50}, ymin=-1.5, ymax=1.5, ytick={-1.5,-1,-0.5,0,0.5,1,1.5}, ylabel={Neural activity}]
\plotI{\HLb}
\end{axis}
\begin{axis}[panel, at={(38.5pt,-248pt)}, width=105.5pt, xmin=0, xmax=140, xtick={0,20,...,140}, ymin=-1.5, ymax=2, ytick={-1.5,-1,-0.5,0,0.5,1,1.5,2}, ylabel={Neural activity}]
\plotI{\HLc}
\end{axis}
\begin{axis}[panel, at={(38.5pt,-352pt)}, width=105.5pt, xmin=0, xmax=120, xtick={0,20,...,120}, ymin=-1, ymax=1, ytick={-1,-0.5,0,0.5,1}, ylabel={Neural activity}, xlabel={Time steps}]
\plotI{\HLd}
\end{axis}

% L column
\begin{axis}[panel, at={(183.5pt,-40.5pt)}, width=105pt, xmin=0, xmax=14, xtick={0,2,...,14}, yb]
\plotT{\La}
\end{axis}
\begin{axis}[panel, at={(183.5pt,-144.25pt)}, width=105pt, xmin=0, xmax=18, xtick={0,2,...,18}, yb]
\plotT{\Lb}
\end{axis}
\begin{axis}[panel, at={(183.5pt,-248pt)}, width=105pt, xmin=0, xmax=25, xtick={0,5,...,25}, ya]
\plotT{\Lc}
\end{axis}
\begin{axis}[panel, at={(183.5pt,-352pt)}, width=105pt, xmin=0, xmax=14, xtick={0,2,...,14}, yc]
\plotT{\Ld}
\end{axis}
\begin{axis}[panel, at={(183.5pt,-455.75pt)}, width=105pt, xmin=0, xmax=14, xtick={0,2,...,14}, ymin=-0.8, ymax=1, ytick={-0.8,-0.6,-0.4,-0.2,0,0.2,0.4,0.6,0.8,1}, xlabel={Time steps}, ylabel={Neural activity}, ylabel style={at={(axis description cs:-0.243,0.5)}}]
\plotT{\Le}
\end{axis}

% H column
\begin{axis}[panel, at={(326.5pt,-40.5pt)}, width=104pt, xmin=0, xmax=50, xtick={0,5,...,50}, ya]
\plotI{\Ha}
\end{axis}
\begin{axis}[panel, at={(326.5pt,-144.25pt)}, width=104pt, xmin=0, xmax=90, xtick={0,10,...,90}, ya]
\plotI{\Hb}
\end{axis}
\begin{axis}[panel, at={(326.5pt,-248pt)}, width=104pt, xmin=0, xmax=140, xtick={0,20,...,140}, ymin=-1.5, ymax=2, ytick={-1.5,-1,-0.5,0,0.5,1,1.5,2}]
\plotI{\Hc}
\end{axis}
\begin{axis}[panel, at={(326.5pt,-352pt)}, width=104pt, xmin=0, xmax=30, xtick={0,5,...,30}, ya]
\plotT{\Hd}
\end{axis}
\begin{axis}[panel, at={(326.5pt,-455.75pt)}, width=104pt, xmin=0, xmax=20, xtick={0,5,...,20}, ya, xlabel={Time steps}]
\plotT{\He}
\end{axis}

% Minimal column
\begin{axis}[panel, at={(471pt,-40.5pt)}, width=104pt, xmin=0, xmax=30, xtick={0,5,...,30}, yc]
\plotT{\Ma}
\end{axis}
\begin{axis}[panel, at={(471pt,-144.25pt)}, width=104pt, xmin=0, xmax=25, xtick={0,5,...,25}, yc, xlabel={Time steps}]
\plotT{\Mb}
\end{axis}
\end{tikzpicture}
\end{document}
